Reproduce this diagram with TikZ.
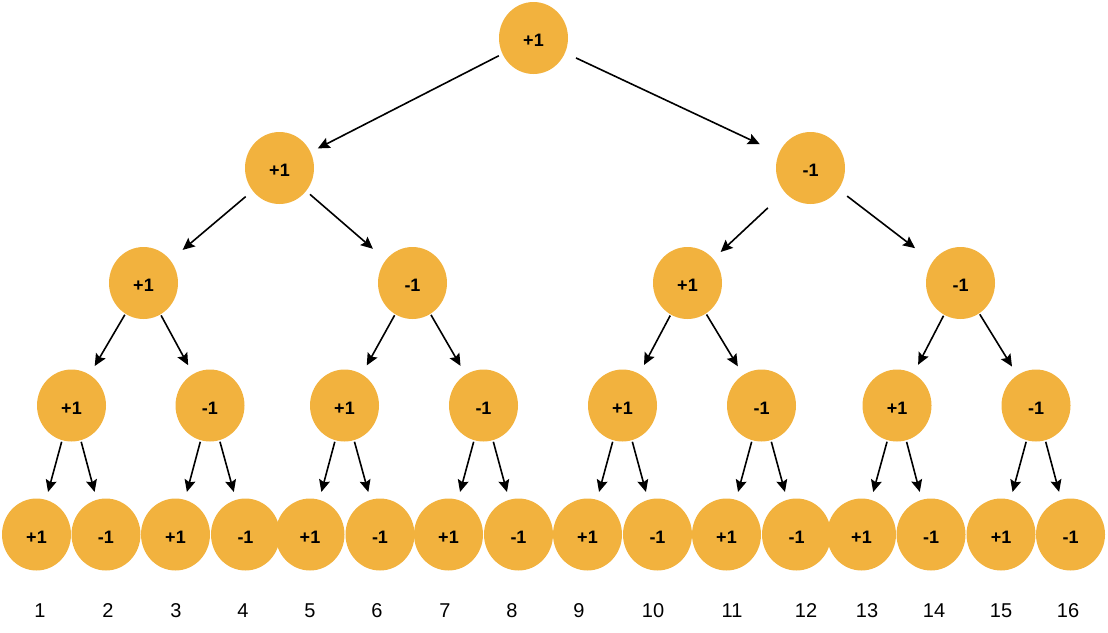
\documentclass[tikz,border=0pt]{standalone}
\usepackage{fontspec}
\setmainfont{Liberation Sans}
\usetikzlibrary{shapes.geometric,arrows.meta}
\definecolor{nodeorange}{HTML}{F2B23E}
\begin{document}
\begin{tikzpicture}[x=1pt,y=-1pt,
  val/.style={ellipse, fill=nodeorange, draw=none, minimum width=69pt, minimum height=72pt, inner sep=0pt, text height=17pt, text depth=0pt, font=\bfseries\fontsize{18}{18}\selectfont},
  idx/.style={font=\fontsize{20}{20}\selectfont, inner sep=0pt},
  arr/.style={-{Stealth[length=12pt,width=11pt,inset=2pt]}, line width=1.6pt, draw=black},
  arrA/.style={arr, shorten <=1pt, shorten >=10pt},
  arrB/.style={arr, shorten <=1.5pt, shorten >=8pt}]
\useasboundingbox (0,0) rectangle (1108,632);
% levels 0-2
\node[val] (n0) at (533.5,38) {+1};
\node[val] (n1) at (279.5,168) {+1};
\node[val] (n2) at (810.5,168) {-1};
\node[val] (n3) at (143.5,283) {+1};
\node[val] (n4) at (412.5,283) {-1};
\node[val] (n5) at (687.5,283) {+1};
\node[val] (n6) at (960.5,283) {-1};
% level 3
\foreach \x [count=\i] in {71.5,210,344.5,483.5,622.5,761.5,897,1036}
  \node[val] (c\i) at (\x,405.5) {\ifodd\i\relax +1\else -1\fi};
% leaves
\foreach \x [count=\i] in {36.5,106,175.5,245.5,310,380,448.5,518.5,587.5,657.5,726.5,796.5,861.5,931,1001,1070.5}
  \node[val] (d\i) at (\x,534.5) {\ifodd\i\relax +1\else -1\fi};
% indices
\foreach \x [count=\i] in {40,108,176,243,310,377,445,512,579,653,732,806,867,934,1001,1068}
  \node[idx] (t\i) at (\x,610.5) {\i};
% connectors
\draw[arr, shorten <=4pt, shorten >=8pt] (n0) -- (n1);
\draw[arr, shorten <=12pt, shorten >=21pt] (n0) -- (n2);
\draw[arr, shorten <=9pt, shorten >=16pt] (n1) -- (n3);
\draw[arr, shorten <=5pt, shorten >=17pt] (n1) -- (n4);
\draw[arr, shorten <=23pt, shorten >=10pt] (n2) -- (n5);
\draw[arr, shorten <=11pt, shorten >=22pt] (n2) -- (n6);
\foreach \i in {1,...,4}{
  \pgfmathtruncatemacro\pp{\i+2}
  \pgfmathtruncatemacro\ca{2*\i-1}
  \pgfmathtruncatemacro\cb{2*\i}
  \draw[arrA] (n\pp) -- (c\ca);
  \draw[arrA] (n\pp) -- (c\cb);
}
\foreach \i in {1,...,8}{
  \pgfmathtruncatemacro\ca{2*\i-1}
  \pgfmathtruncatemacro\cb{2*\i}
  \draw[arrB] (c\i) -- (d\ca);
  \draw[arrB] (c\i) -- (d\cb);
}
\end{tikzpicture}
\end{document}
